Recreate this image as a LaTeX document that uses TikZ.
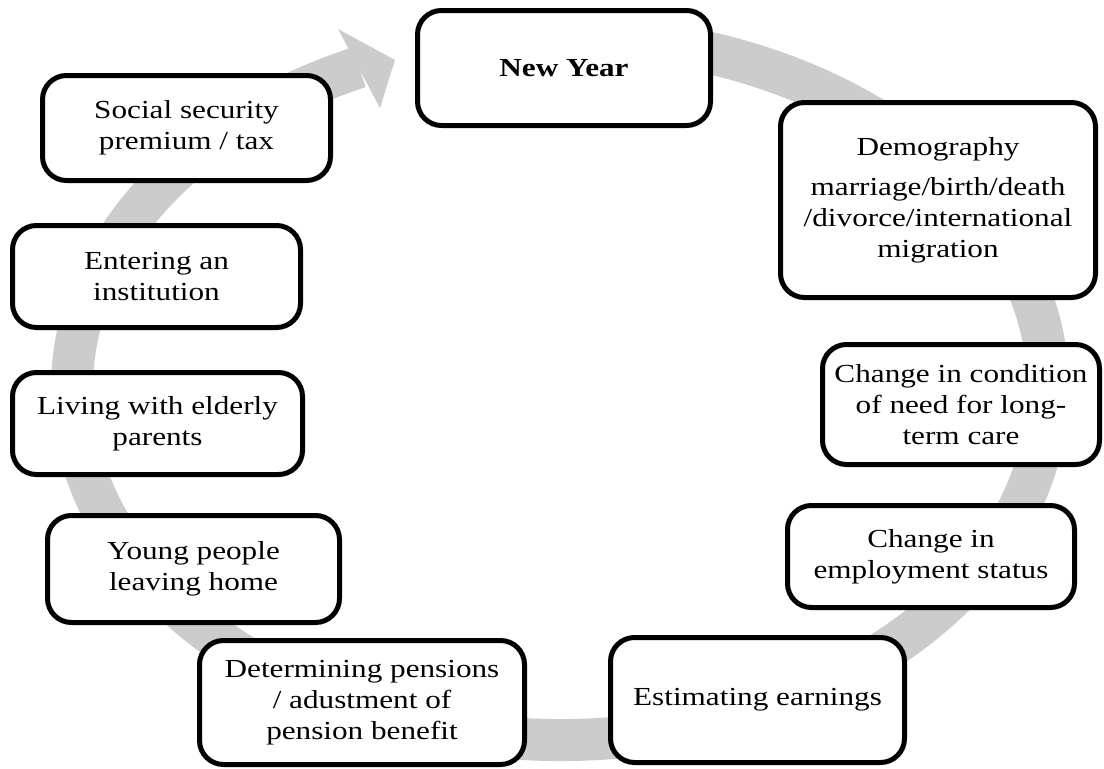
\documentclass[tikz,border=0pt]{standalone}
\usepackage{fontspec}
\setmainfont{Liberation Serif}[FakeStretch=1.2]
\usepackage{tikz}
\definecolor{ringgray}{RGB}{204,204,204}

\begin{document}
\begin{tikzpicture}[x=1pt, y=1pt,
    stage/.style = {shape=rectangle, rounded corners=24pt,
      draw, line width=5pt, fill=white, align=center, inner sep=0pt,
      font=\fontsize{26}{31}\selectfont},
    ring/.style = {draw=ringgray, line width=42pt}]
  \useasboundingbox (0,0) rectangle (1104,-769);
  \draw[ring] (560,-388) ++(80:488 and 352)
    arc[start angle=80, end angle=-245.7, x radius=488, y radius=352];
  \fill[ringgray] (338,-29) -- (395,-60) -- (380,-108) -- cycle;
  \node[stage, minimum width=293, minimum height=115] (newyear) at (564,-68)
    {\textbf{New Year}};
  \node[stage, minimum width=315, minimum height=195] (demography) at (938,-200)
    {Demography\\[9pt] marriage/birth/death\\ /divorce/international\\ migration};
  \node[stage, minimum width=277, minimum height=120] (care) at (961,-404.5)
    {Change in condition\\ of need for long-\\ term care};
  \node[stage, minimum width=287, minimum height=102] (employment) at (931,-556.5)
    {Change in\\ employment status};
  \node[stage, minimum width=294, minimum height=125] (earnings) at (757.5,-700)
    {Estimating earnings};
  \node[stage, minimum width=325, minimum height=124] (pensions) at (362,-702.5)
    {Determining pensions\\ / adustment of\\ pension benefit};
  \node[stage, minimum width=292, minimum height=107] (leaving) at (193.5,-569)
    {Young people\\ leaving home};
  \node[stage, minimum width=290, minimum height=102] (parents) at (157.5,-423.5)
    {Living with elderly\\ parents};
  \node[stage, minimum width=288, minimum height=102] (institution) at (156.5,-276.5)
    {Entering an\\ institution};
  \node[stage, minimum width=288, minimum height=105] (premium) at (186.5,-128)
    {Social security\\ premium / tax};
\end{tikzpicture}
\end{document}
